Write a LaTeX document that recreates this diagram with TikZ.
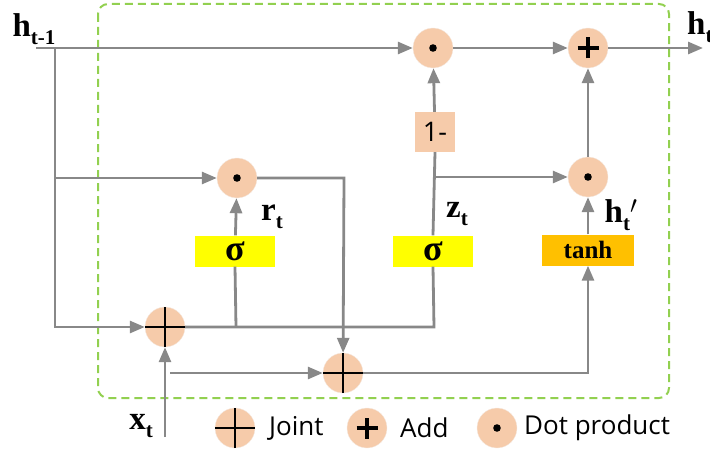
\documentclass[tikz,border=0pt]{standalone}
\usepackage{fontspec}
\setmainfont{Liberation Serif}
\newfontfamily\legendfont{Open Sans}
\usetikzlibrary{arrows.meta}
\definecolor{wire}{HTML}{888888}
\definecolor{peach}{HTML}{F6CBAA}
\definecolor{frame}{HTML}{92D050}
\definecolor{gateyellow}{HTML}{FFFF00}
\definecolor{gateorange}{HTML}{FFC000}
\newcommand{\lowsub}[1]{\raisebox{-0.55ex}{\fontsize{21}{21}\selectfont #1}}
\tikzset{
  wireline/.style={draw=wire, line width=2.8pt},
  arr/.style={wireline, -{Triangle[length=15pt,width=12pt]}},
  opnode/.style={circle, fill=peach, draw=peach!90!black!30, line width=0.4pt, minimum size=40pt, inner sep=0pt},
  gate/.style={minimum width=80pt, minimum height=31pt, inner sep=0pt},
  lbl/.style={font=\fontsize{33}{33}\selectfont\bfseries, inner sep=0pt},
  legtext/.style={font=\legendfont\fontsize{26}{26}\selectfont, anchor=west, inner sep=0pt},
}
% glyphs drawn inside operator circles
\newcommand{\jointmark}[1]{\draw[line width=1.6pt] ([xshift=-20pt]#1.center) -- ([xshift=20pt]#1.center) ([yshift=-20pt]#1.center) -- ([yshift=20pt]#1.center);}
\newcommand{\addmark}[1]{\draw[line width=4.8pt] ([xshift=-10.5pt]#1.center) -- ([xshift=10.5pt]#1.center) ([yshift=-10.5pt]#1.center) -- ([yshift=10.5pt]#1.center);}
\newcommand{\dotmark}[1]{\fill (#1.center) circle (3.8pt);}
\begin{document}
\begin{tikzpicture}[x=1pt,y=-1pt]
\useasboundingbox (0,0) rectangle (710,452);
% cell frame
\draw[frame, line width=2pt, dash pattern=on 8pt off 5pt, rounded corners=10pt] (98,4) rectangle (669,398);

% operators
\node[opnode] (dotA) at (433,48) {};
\node[opnode] (addA) at (588,48) {};
\node[opnode] (dotR) at (237,178) {};
\node[opnode] (dotH) at (588,177) {};
\node[opnode] (jointA) at (165,327) {};
\node[opnode] (jointB) at (343,373) {};
\dotmark{dotA} \addmark{addA} \dotmark{dotR} \dotmark{dotH}
\jointmark{jointA} \jointmark{jointB}

% gates
\node[fill=peach, minimum width=40pt, minimum height=40pt, inner sep=0pt, font=\legendfont\fontsize{27}{27}\selectfont] (oneminus) at (435,132) {1-};
\node[gate, fill=gateyellow, font=\fontsize{36}{36}\selectfont\bfseries] (sigR) at (235,251) {σ};
\node[gate, fill=gateyellow, font=\fontsize{36}{36}\selectfont\bfseries] (sigZ) at (433,251) {σ};
\node[gate, fill=gateorange, minimum width=92pt, font=\fontsize{25}{25}\selectfont\bfseries] (tanhN) at (588,250) {tanh};

% labels
\node[lbl] (hprev) at (34,29) {h\lowsub{t-1}};
\node[lbl, anchor=west] (hnext) at (687,27) {h\lowsub{t}};
\node[lbl] (xlab) at (141,426) {x\lowsub{t}};
\node[lbl] (rlab) at (272,217) {r\lowsub{t}};
\node[lbl] (zlab) at (457,214) {z\lowsub{t}};
\node[lbl] (hcand) at (621,215) {h\lowsub{t}$'$};

% free ends
\coordinate (hin) at (36,48);
\coordinate (hsplit) at (55,48);
\coordinate (hbranch) at (55,178);
\coordinate (hout) at (703,48);
\coordinate (xin) at (165,437);
\coordinate (xbranch) at (170,373);
\coordinate (rtap) at (236,327);
\coordinate (ztap) at (434,327);
\coordinate (zbranch) at (434,177);
\coordinate (rturn) at (344,178);
\coordinate (hturn) at (588,373);

% connectors
\draw[arr] (hin) -- (dotA);
\draw[arr] (hsplit) |- (jointA);
\draw[arr] (hbranch) -- (dotR);
\draw[arr] (dotA) -- (addA);
\draw[arr] (addA) -- (hout);
\draw[arr] (oneminus) -- (dotA);
\draw[arr] (dotH) -- (addA);
\draw[wireline] (jointA.east) -- (ztap) -- (sigZ.south);
\draw[wireline] (sigZ.north) -- (oneminus.south);
\draw[arr] (zbranch) -- (dotH);
\draw[wireline] (rtap) -- (sigR.south);
\draw[arr] (sigR) -- (dotR);
\draw[arr] (dotR.east) -- (rturn) -- (jointB);
\draw[arr] (jointB.east) -- (hturn) -- (tanhN.south);
\draw[arr] (tanhN) -- (dotH);
\draw[arr] (xin) -- (jointA);
\draw[arr] (xbranch) -- (jointB);

% legend
\node[opnode] (legJ) at (235,428) {};
\node[opnode] (legA) at (367,428) {};
\node[opnode] (legD) at (497,428) {};
\jointmark{legJ} \addmark{legA} \dotmark{legD}
\node[legtext] (legJt) at (269,428) {Joint};
\node[legtext] (legAt) at (400,428) {Add};
\node[legtext] (legDt) at (524,428) {Dot product};
\end{tikzpicture}
\end{document}
